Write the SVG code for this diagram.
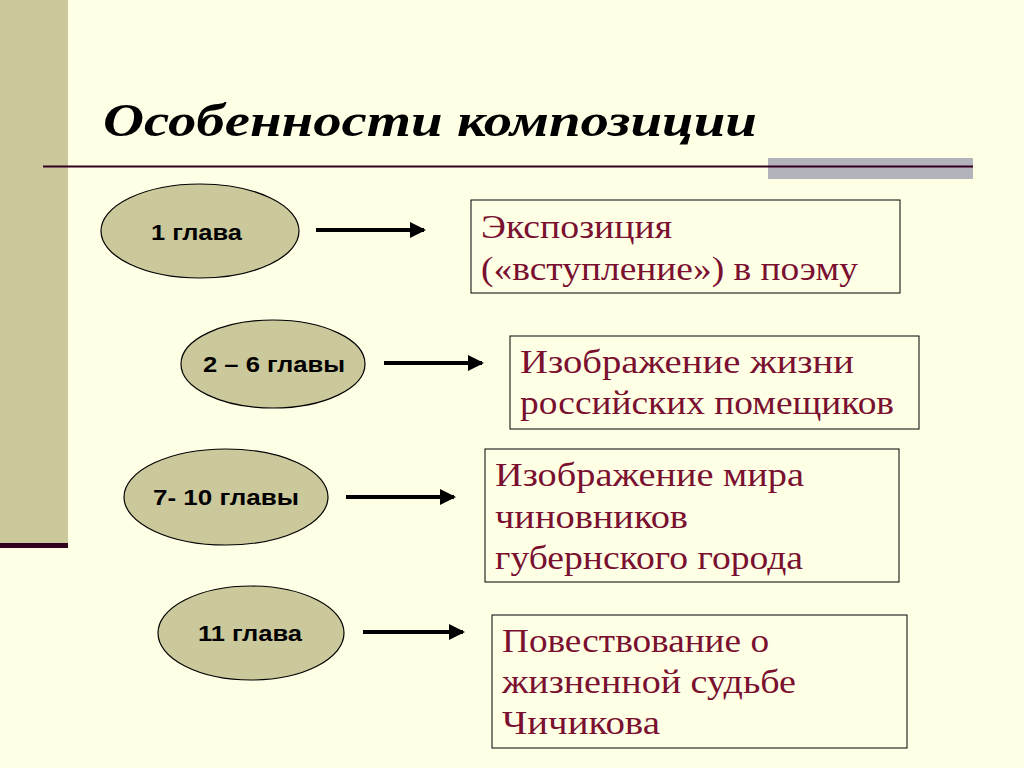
<svg xmlns="http://www.w3.org/2000/svg" width="1024" height="768" viewBox="0 0 1024 768">
<defs>
<style>
.e{fill:#cbc99b;stroke:#000;stroke-width:1.2}
.el{font-family:"Liberation Sans",Arial,sans-serif;font-weight:bold;font-size:22px;fill:#000}
.b{fill:#ffffe6;stroke:#000;stroke-width:1}
.t{font-family:"Liberation Serif","Times New Roman",serif;font-size:33px;fill:#7a1030}
.c{stroke:#000;stroke-width:4;fill:none}
</style>
<marker id="a" markerWidth="4" markerHeight="4" refX="3.5" refY="2" orient="auto" markerUnits="strokeWidth"><path d="M0,0L4,2L0,4Z" fill="#000"/></marker>
</defs>
<rect width="1024" height="768" fill="#ffffe6"/>
<rect x="0" y="0" width="68" height="545" fill="#cbc99b"/>
<rect x="0" y="543" width="68" height="5" fill="#330022"/>
<rect x="768" y="158" width="205" height="21" fill="#b3b3bb"/>
<line x1="43" y1="166.5" x2="973" y2="166.5" stroke="#330022" stroke-width="2"/>
<text x="103" y="136" textLength="654" lengthAdjust="spacingAndGlyphs" font-family="Liberation Serif,'Times New Roman',serif" font-weight="bold" font-style="italic" font-size="46" fill="#000">Особенности композиции</text>
<g id="connectors">
<line class="c" x1="316" y1="230" x2="424" y2="230" marker-end="url(#a)"/>
<line class="c" x1="384" y1="363" x2="482" y2="363" marker-end="url(#a)"/>
<line class="c" x1="346" y1="497" x2="454" y2="497" marker-end="url(#a)"/>
<line class="c" x1="363" y1="632" x2="463" y2="632" marker-end="url(#a)"/>
</g>
<g id="n1"><ellipse class="e" cx="200" cy="231" rx="99" ry="47"/><text class="el" x="151" y="240" textLength="91" lengthAdjust="spacingAndGlyphs">1 глава</text></g>
<g id="n2"><ellipse class="e" cx="273" cy="364" rx="92" ry="44"/><text class="el" x="203" y="372" textLength="142" lengthAdjust="spacingAndGlyphs">2 – 6 главы</text></g>
<g id="n3"><ellipse class="e" cx="226" cy="497" rx="102" ry="48"/><text class="el" x="153" y="505" textLength="146" lengthAdjust="spacingAndGlyphs">7- 10 главы</text></g>
<g id="n4"><ellipse class="e" cx="251" cy="633" rx="93" ry="47"/><text class="el" x="198" y="641" textLength="104" lengthAdjust="spacingAndGlyphs">11 глава</text></g>
<g id="b1"><rect class="b" x="471" y="200" width="429" height="93"/><text class="t" x="481" y="238" textLength="191" lengthAdjust="spacingAndGlyphs">Экспозиция</text><text class="t" x="481" y="280" textLength="377" lengthAdjust="spacingAndGlyphs">(«вступление») в поэму</text></g>
<g id="b2"><rect class="b" x="510" y="336" width="409" height="93"/><text class="t" x="520" y="373" textLength="334" lengthAdjust="spacingAndGlyphs">Изображение жизни</text><text class="t" x="520" y="414" textLength="374" lengthAdjust="spacingAndGlyphs">российских помещиков</text></g>
<g id="b3"><rect class="b" x="485" y="449" width="414" height="133"/><text class="t" x="495" y="486" textLength="309" lengthAdjust="spacingAndGlyphs">Изображение мира</text><text class="t" x="495" y="528" textLength="193" lengthAdjust="spacingAndGlyphs">чиновников</text><text class="t" x="495" y="569" textLength="308" lengthAdjust="spacingAndGlyphs">губернского города</text></g>
<g id="b4"><rect class="b" x="492" y="615" width="415" height="133"/><text class="t" x="502" y="652" textLength="267" lengthAdjust="spacingAndGlyphs">Повествование о</text><text class="t" x="502" y="693" textLength="294" lengthAdjust="spacingAndGlyphs">жизненной судьбе</text><text class="t" x="502" y="734" textLength="158" lengthAdjust="spacingAndGlyphs">Чичикова</text></g>
</svg>
